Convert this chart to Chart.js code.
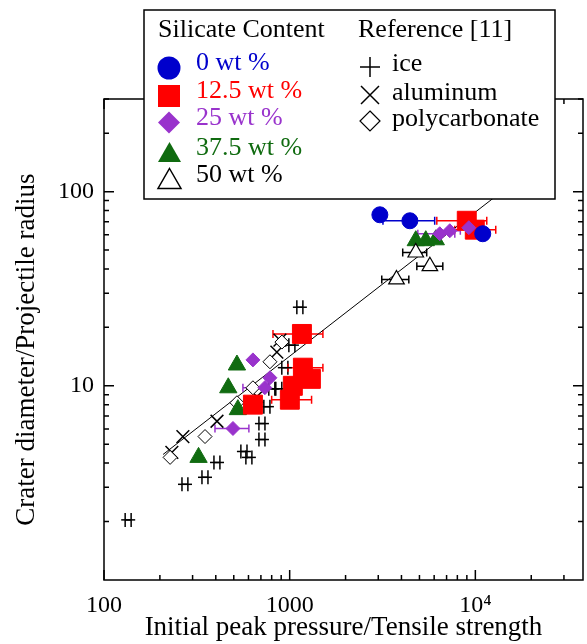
<!DOCTYPE html>
<html><head><meta charset="utf-8">
<script src="https://cdn.jsdelivr.net/npm/chart.js@4/dist/chart.umd.min.js"></script>
<style>html,body{margin:0;padding:0;background:#fff;}canvas{display:block;}</style>
</head><body>
<canvas id="c" width="587" height="644"></canvas>
<script>
// ---- tick labels ----
const xTickValues = [100, 1000, 10000];
const xTickLabels = ['100', '1000', '10\u2074'];
const yTickValues = [10, 100];
const yTickLabels = ['10', '100'];

// ---- 0 wt % ----
const s0X = [3060, 4440, 10960];
const s0Y = [76.0, 70.8, 60.7];
const s0Lo = [null, 3180, null];
const s0Hi = [null, 6040, null];
// ---- 12.5 wt % ----
const s125X = [8990, 9930, 1164, 1178, 1301, 1002, 634, 1040];
const s125Y = [70.8, 63.7, 18.5, 12.4, 10.86, 8.48, 8.0, 10.0];
const s125Lo = [6200, 7750, 813, 980, 1100, 800, null, null];
const s125Hi = [11520, 12880, 1510, 1510, 1421, 1312, null, null];
// ---- 25 wt % ----
const s25X = [9220, 6430, 7283, 634, 735, 783, 495];
const s25Y = [65.2, 60.7, 62.9, 13.6, 9.78, 11.0, 6.03];
const s25Lo = [null, 4900, null, null, 560, null, 396];
const s25Hi = [null, 7750, 8300, null, null, null, 603];
// ---- 37.5 wt % ----
const s375X = [4777, 5408, 6121, 520, 467, 323, 526];
const s375Y = [55.9, 55.9, 56.5, 12.8, 9.77, 4.28, 7.54];
// ---- 50 wt % ----
const s50X = [4777, 5690, 3761];
const s50Y = [48.6, 41.3, 35.3];
const s50Lo = [4063, 4840, 3133];
const s50Hi = [5470, 6680, 4382];
// ---- Reference [11]: ice ----
const iceX = [1135, 135, 273, 350, 406, 567, 603, 709, 709, 754, 802, 874, 1028, 942];
const iceY = [25.4, 2.04, 3.11, 3.38, 4.03, 4.59, 4.28, 5.29, 6.39, 7.81, 9.65, 9.65, 16.2, 12.4];
const iceLo = [1093, 130, 263, 337, 391, 546, 581, 683, 683, 726, 772, 842, 990, 907];
const iceHi = [1178, 140, 283, 363, 421, 589, 626, 736, 736, 783, 832, 907, 1067, 978];
// ---- aluminum ----
const alX = [232, 266, 406, 666, 853, 886];
const alY = [4.54, 5.48, 6.57, 8.8, 14.9, 17.2];
// ---- polycarbonate ----
const pcX = [227, 350, 520, 634, 783, 908];
const pcY = [4.28, 5.48, 8.18, 9.77, 13.3, 16.8];
// ---- fit line ----
const fitX = [208, 15000];
const fitY = [4.43, 106];

const FONT = "'Liberation Serif','Times New Roman',serif";
const BLUE = '#0000cc', RED = '#ff0000', PURPLE = '#9933cc', GREEN = '#106b10';
function pts(xs, ys) { return xs.map((x, i) => ({x: x, y: ys[i]})); }

const errPlugin = {
  id: 'errbars',
  beforeDatasetsDraw(chart) {
    const ctx = chart.ctx, xs = chart.scales.x, ys = chart.scales.y;
    ctx.save();
    chart.data.datasets.forEach(ds => {
      if (!ds.xLo) return;
      ctx.strokeStyle = ds.errColor; ctx.lineWidth = 1.5;
      ds.data.forEach((p, j) => {
        const py = ys.getPixelForValue(p.y);
        const px = xs.getPixelForValue(p.x);
        const lo = ds.xLo[j], hi = ds.xHi[j];
        const c = ds.cap;
        ctx.beginPath();
        if (lo != null) {
          const pl = xs.getPixelForValue(lo);
          ctx.moveTo(pl, py); ctx.lineTo(px, py);
          ctx.moveTo(pl, py - c); ctx.lineTo(pl, py + c);
        }
        if (hi != null) {
          const ph = xs.getPixelForValue(hi);
          ctx.moveTo(px, py); ctx.lineTo(ph, py);
          ctx.moveTo(ph, py - c); ctx.lineTo(ph, py + c);
        }
        ctx.stroke();
      });
    });
    ctx.restore();
  }
};

const framePlugin = {
  id: 'frame',
  afterDatasetsDraw(chart) {
    const ctx = chart.ctx, a = chart.chartArea, xs = chart.scales.x, ys = chart.scales.y;
    ctx.save();
    ctx.strokeStyle = '#000';
    ctx.lineWidth = 1.5;
    ctx.strokeRect(a.left, a.top, a.right - a.left, a.bottom - a.top);
    ctx.beginPath();
    for (let d = 100; d <= 10000; d *= 10) {
      for (let k = 1; k <= 9; k++) {
        const v = d * k;
        if (v < xs.min || v > xs.max) continue;
        const p = xs.getPixelForValue(v);
        const L = k === 1 ? 10 : 5;
        ctx.moveTo(p, a.bottom); ctx.lineTo(p, a.bottom - L);
        ctx.moveTo(p, a.top); ctx.lineTo(p, a.top + L);
      }
    }
    for (let d = 1; d <= 100; d *= 10) {
      for (let k = 1; k <= 9; k++) {
        const v = d * k;
        if (v <= ys.min || v > ys.max) continue;
        const p = ys.getPixelForValue(v);
        const L = k === 1 ? 10 : 5;
        ctx.moveTo(a.left, p); ctx.lineTo(a.left + L, p);
        ctx.moveTo(a.right, p); ctx.lineTo(a.right - L, p);
      }
    }
    ctx.stroke();
    ctx.restore();
  }
};

const legendPlugin = {
  id: 'customLegend',
  afterDraw(chart) {
    const ctx = chart.ctx;
    ctx.save();
    ctx.fillStyle = '#fff';
    ctx.fillRect(144, 10, 411, 189);
    ctx.strokeStyle = '#000'; ctx.lineWidth = 1.5;
    ctx.strokeRect(144, 10, 411, 189);
    ctx.font = '26px ' + FONT;
    ctx.textBaseline = 'alphabetic';
    ctx.textAlign = 'left';
    ctx.fillStyle = '#000';
    ctx.fillText('Silicate Content', 158, 37);
    ctx.fillText('Reference [11]', 358, 37);
    const rows = [
      ['0 wt %', BLUE, 70], ['12.5 wt %', RED, 98], ['25 wt %', PURPLE, 125],
      ['37.5 wt %', GREEN, 155], ['50 wt %', '#000', 182]
    ];
    rows.forEach(r => { ctx.fillStyle = r[1]; ctx.fillText(r[0], 196, r[2]); });
    ctx.fillStyle = '#000';
    ctx.fillText('ice', 392, 71);
    ctx.fillText('aluminum', 392, 100);
    ctx.fillText('polycarbonate', 392, 126);
    // markers
    ctx.fillStyle = BLUE;
    ctx.beginPath(); ctx.arc(169, 68, 11.5, 0, Math.PI * 2); ctx.fill();
    ctx.fillStyle = RED; ctx.fillRect(158, 85, 22, 22);
    ctx.fillStyle = PURPLE;
    ctx.beginPath(); ctx.moveTo(169, 111.5); ctx.lineTo(180, 122.5); ctx.lineTo(169, 133.5); ctx.lineTo(158, 122.5); ctx.closePath(); ctx.fill();
    ctx.fillStyle = GREEN;
    ctx.beginPath(); ctx.moveTo(169.5, 142); ctx.lineTo(181, 162); ctx.lineTo(158, 162); ctx.closePath(); ctx.fill();
    ctx.strokeStyle = '#000'; ctx.lineWidth = 1.5;
    ctx.beginPath(); ctx.moveTo(169.5, 168.5); ctx.lineTo(181, 188.5); ctx.lineTo(158, 188.5); ctx.closePath(); ctx.stroke();
    ctx.beginPath();
    ctx.moveTo(360, 67); ctx.lineTo(380, 67); ctx.moveTo(370, 57); ctx.lineTo(370, 77);
    ctx.moveTo(361, 86); ctx.lineTo(379, 104); ctx.moveTo(379, 86); ctx.lineTo(361, 104);
    ctx.stroke();
    ctx.lineWidth = 1.2;
    ctx.beginPath(); ctx.moveTo(370, 111); ctx.lineTo(380, 121); ctx.lineTo(370, 131); ctx.lineTo(360, 121); ctx.closePath(); ctx.stroke();
    ctx.restore();
  }
};

new Chart(document.getElementById('c'), {
  type: 'scatter',
  data: {
    datasets: [
      {label: 'fit', type: 'line', data: pts(fitX, fitY), showLine: true, borderColor: '#000', borderWidth: 1, pointRadius: 0, fill: false, order: 20},
      {label: 'ice', data: pts(iceX, iceY), pointStyle: 'line', pointRadius: 7, borderColor: '#000', borderWidth: 1.5, xLo: iceLo, xHi: iceHi, errColor: '#000', cap: 7, order: 8},
      {label: 'aluminum', data: pts(alX, alY), pointStyle: 'crossRot', pointRadius: 9, borderColor: '#000', borderWidth: 1.5, order: 7},
      {label: 'polycarbonate', data: pts(pcX, pcY), pointStyle: 'rectRot', pointRadius: 7, backgroundColor: '#fff', borderColor: '#000', borderWidth: 1, order: 6},
      {label: '37.5 wt %', data: pts(s375X, s375Y), pointStyle: 'triangle', pointRadius: 10, backgroundColor: GREEN, borderColor: GREEN, borderWidth: 1, order: 5},
      {label: '12.5 wt %', data: pts(s125X, s125Y), pointStyle: 'rect', pointRadius: 13.4, backgroundColor: RED, borderColor: RED, borderWidth: 1, xLo: s125Lo, xHi: s125Hi, errColor: RED, cap: 4, order: 4},
      {label: '25 wt %', data: pts(s25X, s25Y), pointStyle: 'rectRot', pointRadius: 7, backgroundColor: PURPLE, borderColor: PURPLE, borderWidth: 1, xLo: s25Lo, xHi: s25Hi, errColor: PURPLE, cap: 4, order: 3},
      {label: '0 wt %', data: pts(s0X, s0Y), pointStyle: 'circle', pointRadius: 8, backgroundColor: BLUE, borderColor: BLUE, borderWidth: 1, xLo: s0Lo, xHi: s0Hi, errColor: BLUE, cap: 4, order: 2},
      {label: '50 wt %', data: pts(s50X, s50Y), pointStyle: 'triangle', pointRadius: 9, backgroundColor: '#fff', borderColor: '#000', borderWidth: 1.2, xLo: s50Lo, xHi: s50Hi, errColor: '#000', cap: 4, order: 1}
    ]
  },
  options: {
    responsive: false,
    animation: false,
    devicePixelRatio: 1,
    layout: {autoPadding: false, padding: {top: 99, right: 4, left: 0, bottom: 0}},
    plugins: {legend: {display: false}, tooltip: {enabled: false}},
    elements: {point: {hoverRadius: 0}},
    scales: {
      x: {
        type: 'logarithmic', min: 100, max: 38000,
        afterBuildTicks: s => { s.ticks = xTickValues.map(v => ({value: v})); },
        afterFit: s => { s.height = 64; s.paddingLeft = 0; s.paddingRight = 0; },
        ticks: {autoSkip: false, maxRotation: 0, padding: 11, color: '#000', font: {family: FONT, size: 24},
          callback: (v) => { const i = xTickValues.indexOf(v); return i >= 0 ? xTickLabels[i] : ''; }},
        grid: {display: false, drawTicks: false},
        border: {display: false},
        title: {display: true, text: 'Initial peak pressure/Tensile strength', color: '#000', font: {family: FONT, size: 27}, padding: {top: 0, bottom: 0}}
      },
      y: {
        type: 'logarithmic', min: 1, max: 300,
        afterBuildTicks: s => { s.ticks = yTickValues.map(v => ({value: v})); },
        afterFit: s => { s.width = 104; s.paddingTop = 0; s.paddingBottom = 0; },
        ticks: {autoSkip: false, padding: 10, color: '#000', font: {family: FONT, size: 24},
          callback: (v) => { const i = yTickValues.indexOf(v); return i >= 0 ? yTickLabels[i] : ''; }},
        grid: {display: false, drawTicks: false},
        border: {display: false},
        title: {display: true, text: 'Crater diameter/Projectile radius   ', color: '#000', font: {family: FONT, size: 27}, padding: {top: 11, bottom: 0}}
      }
    }
  },
  plugins: [errPlugin, framePlugin, legendPlugin]
});
</script>
</body></html>
